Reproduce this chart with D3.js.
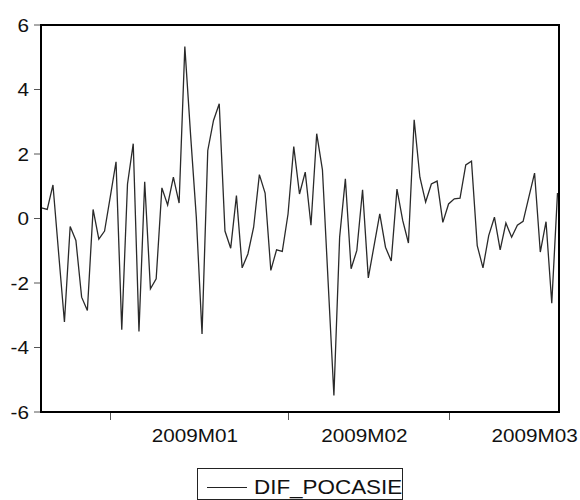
<!DOCTYPE html>
<html>
<head>
<meta charset="utf-8">
<script src="https://cdn.jsdelivr.net/npm/d3@7"></script>
<style>
  body { margin: 0; background: #fff; }
  text { font-family: "Liberation Sans", Arial, sans-serif; fill: #111; }
</style>
</head>
<body>
<div id="chart"></div>
<script>
// daily observations, 2008-12-20 .. 2009-03-20
const startDate = new Date(2008, 11, 20);
const endDate = new Date(2009, 2, 21);
const difPocasie = [
  0.33, 0.28, 1.04, -1.1, -3.21, -0.25, -0.68, -2.44, -2.85, 0.28,
  -0.64, -0.39, 0.68, 1.76, -3.45, 1.07, 2.32, -3.50, 1.14, -2.18,
  -1.87, 0.95, 0.42, 1.28, 0.48, 5.33, 2.6, 0.05, -3.58, 2.11,
  3.04, 3.56, -0.39, -0.92, 0.71, -1.53, -1.10, -0.27, 1.36, 0.79,
  -1.61, -0.97, -1.02, 0.14, 2.23, 0.76, 1.44, -0.21, 2.63, 1.51,
  -1.99, -5.49, -0.58, 1.23, -1.56, -0.99, 0.89, -1.84, -0.85, 0.14,
  -0.89, -1.32, 0.91, -0.06, -0.76, 3.06, 1.28, 0.51, 1.07, 1.16,
  -0.12, 0.45, 0.61, 0.63, 1.66, 1.78, -0.84, -1.53, -0.53, 0.04,
  -0.97, -0.14, -0.58, -0.21, -0.09, 0.66, 1.41, -1.04, -0.10, -2.63,
  0.79
];
const yTicks = [-6, -4, -2, 0, 2, 4, 6];
const monthTicks = [new Date(2009, 0, 1), new Date(2009, 1, 1), new Date(2009, 2, 1)];
const monthLabels = ["2009M01", "2009M02", "2009M03"];
const labelDates = [new Date(2009, 0, 15, 18), new Date(2009, 1, 14, 8), new Date(2009, 2, 16)];
const seriesName = "DIF_POCASIE";

const dates = d3.timeDay.range(startDate, endDate);
const data = dates.map((d, i) => ({ date: d, value: difPocasie[i] }));

const width = 580, height = 500;
const plot = { left: 41, right: 559, top: 25, bottom: 412 };

const svg = d3.select("#chart").append("svg")
  .attr("width", width)
  .attr("height", height);

const x = d3.scaleTime()
  .domain(d3.extent(dates))
  .range([plot.left + 0.5, plot.right - 1.5]);

const y = d3.scaleLinear()
  .domain([-6, 6])
  .range([plot.bottom, plot.top]);

// y axis ticks + labels
const yAxis = svg.append("g");
yAxis.selectAll("line")
  .data(yTicks)
  .enter()
  .append("line")
  .attr("x1", plot.left - 7)
  .attr("x2", plot.left)
  .attr("y1", d => y(d))
  .attr("y2", d => y(d))
  .attr("stroke", "#555")
  .attr("stroke-width", 1);
yAxis.selectAll("text")
  .data(yTicks)
  .enter()
  .append("text")
  .attr("text-anchor", "end")
  .attr("font-size", 18)
  .attr("transform", d => `translate(29,${y(d) + 6.5}) scale(1.15,1)`)
  .text(d => d);

// x axis ticks + labels
const xAxis = svg.append("g");
xAxis.selectAll("line")
  .data(monthTicks)
  .enter()
  .append("line")
  .attr("x1", d => Math.round(x(d)) + 0.5)
  .attr("x2", d => Math.round(x(d)) + 0.5)
  .attr("y1", plot.bottom)
  .attr("y2", plot.bottom + 8)
  .attr("stroke", "#555")
  .attr("stroke-width", 1);
xAxis.selectAll("text")
  .data(monthLabels)
  .enter()
  .append("text")
  .attr("text-anchor", "middle")
  .attr("font-size", 18)
  .attr("transform", (d, i) => `translate(${x(labelDates[i])},442) scale(1.15,1)`)
  .text(d => d);

// series line
const line = d3.line()
  .x(d => x(d.date))
  .y(d => y(d.value));

svg.append("path")
  .datum(data)
  .attr("fill", "none")
  .attr("stroke", "#2a2a2a")
  .attr("stroke-width", 1.3)
  .attr("stroke-linejoin", "miter")
  .attr("d", line);

// frame
svg.append("rect")
  .attr("x", plot.left)
  .attr("y", plot.top)
  .attr("width", plot.right - plot.left)
  .attr("height", plot.bottom - plot.top)
  .attr("fill", "none")
  .attr("stroke", "#000")
  .attr("stroke-width", 2);

// legend
const legend = svg.append("g");
legend.append("rect")
  .attr("x", 197.5)
  .attr("y", 468.5)
  .attr("width", 205)
  .attr("height", 31)
  .attr("fill", "#fff")
  .attr("stroke", "#222")
  .attr("stroke-width", 1);
legend.append("line")
  .attr("x1", 207)
  .attr("x2", 247)
  .attr("y1", 487.5)
  .attr("y2", 487.5)
  .attr("stroke", "#222")
  .attr("stroke-width", 1);
legend.append("text")
  .attr("font-size", 19.5)
  .attr("transform", "translate(254,494) scale(1.15,1)")
  .text(seriesName);
</script>
</body>
</html>
